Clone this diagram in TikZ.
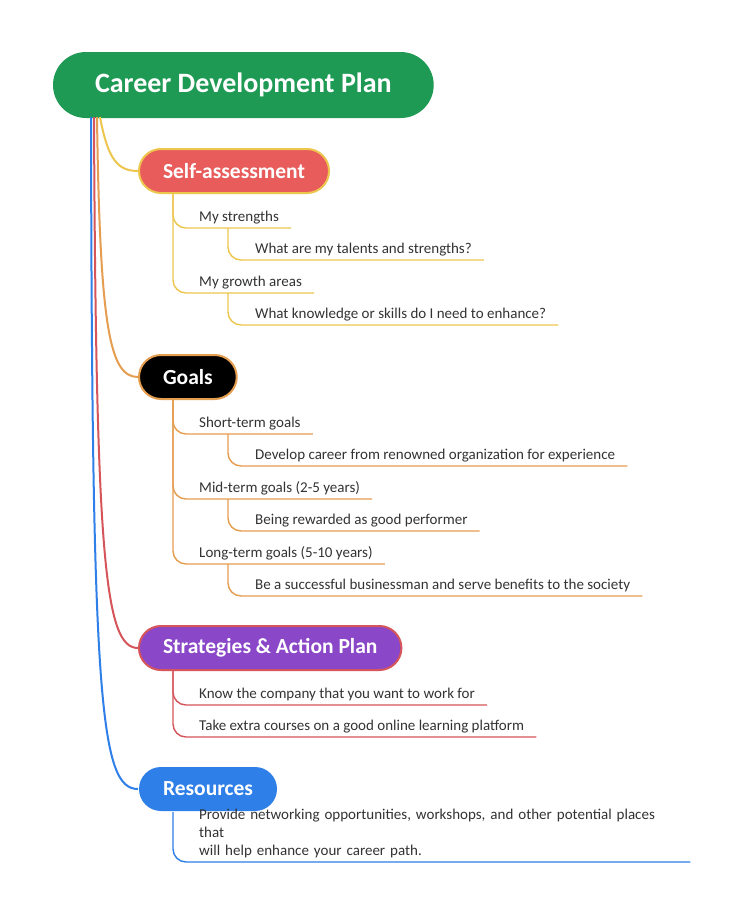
\documentclass[tikz,border=0pt]{standalone}
\usepackage{fontspec}
\setmainfont{Carlito}
\usetikzlibrary{calc}
\definecolor{rootgreen}{HTML}{1F9A55}
\definecolor{sared}{HTML}{E85C5C}
\definecolor{ylw}{HTML}{EDC64E}
\definecolor{org}{HTML}{E59D4F}
\definecolor{prp}{HTML}{8A47C8}
\definecolor{rline}{HTML}{D5555A}
\definecolor{blu}{HTML}{2E7FE8}
\definecolor{txt}{HTML}{333333}
\tikzset{
  branch/.style={rounded corners=22pt,minimum height=44pt,inner xsep=24pt,text=white,
    font=\fontsize{21.5}{24}\selectfont\bfseries,line width=2pt,anchor=west},
  leaf/.style={anchor=south west,inner xsep=12pt,inner ysep=4pt,text=txt,
    font=\fontsize{15}{18}\selectfont,align=left},
  trunk/.style={line width=2pt},
  twig/.style={line width=1.4pt,rounded corners=13pt}
}
\begin{document}
\begin{tikzpicture}[x=1pt,y=-1pt]
\useasboundingbox[fill=white] (0,0) rectangle (741,913);
\node[branch,fill=rootgreen,minimum height=66pt,rounded corners=33pt,inner xsep=42pt,
  font=\fontsize{28}{32}\selectfont\bfseries] (root) at (52,85) {Career Development Plan};

\node[branch,fill=sared,draw=ylw] (sa) at (138,171) {Self-assessment};
\node[branch,fill=black,draw=org] (go) at (138,377) {Goals};
\node[branch,fill=prp,draw=rline] (st) at (138,648) {Strategies \& Action Plan};
\node[branch,fill=blu] (re) at (138,789) {Resources};

% trunk curves
\draw[trunk,ylw] (100,117) .. controls (108,160) and (118,171) .. (sa.west);
\draw[trunk,org] (97,117) .. controls (100,330) and (110,377) .. (go.west);
\draw[trunk,rline] (94,117) .. controls (96,560) and (105,648) .. (st.west);
\draw[trunk,blu] (91,117) .. controls (92,700) and (100,789) .. (re.west);

% self-assessment
\node[leaf] (s1) at (187,228) {My strengths};
\node[leaf] (s1a) at (243,260) {What are my talents and strengths?};
\node[leaf] (s2) at (187,293) {My growth areas};
\node[leaf] (s2a) at (243,325) {What knowledge or skills do I need to enhance?};
\draw[twig,ylw] (sa.south -| 173,0) |- (s1.south east);
\draw[twig,ylw] (sa.south -| 173,0) |- (s2.south east);
\draw[twig,ylw] ([xshift=41pt]s1.south west) |- (s1a.south east);
\draw[twig,ylw] ([xshift=41pt]s2.south west) |- (s2a.south east);

% goals
\node[leaf] (g1) at (187,434) {Short-term goals};
\node[leaf] (g1a) at (243,466) {Develop career from renowned organization for experience};
\node[leaf] (g2) at (187,499) {Mid-term goals (2-5 years)};
\node[leaf] (g2a) at (243,531) {Being rewarded as good performer};
\node[leaf] (g3) at (187,564) {Long-term goals (5-10 years)};
\node[leaf] (g3a) at (243,596) {Be a successful businessman and serve benefits to the society};
\foreach \g in {g1,g2,g3} {
  \draw[twig,org] (go.south -| 173,0) |- (\g.south east);
  \draw[twig,org] ([xshift=41pt]\g.south west) |- (\g a.south east);
}

% strategies
\node[leaf] (a1) at (187,705) {Know the company that you want to work for};
\node[leaf] (a2) at (187,737) {Take extra courses on a good online learning platform};
\draw[twig,rline] (st.south -| 173,0) |- (a1.south east);
\draw[twig,rline] (st.south -| 173,0) |- (a2.south east);

% resources
\node[leaf,text width=479pt] (r1) at (187,862) {Provide networking opportunities, workshops, and other potential places that\\will help enhance your career path.};
\draw[twig,blu] (re.south -| 173,0) |- (r1.south east);
\end{tikzpicture}
\end{document}
